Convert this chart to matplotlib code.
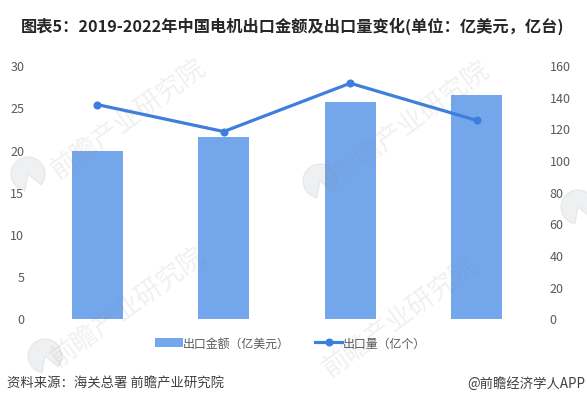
from matplotlib import pyplot as plt
from matplotlib.patches import Wedge
import matplotlib

matplotlib.rcParams['font.family'] = ['Noto Sans CJK SC', 'DejaVu Sans']

years = ['2019', '2020', '2021', '2022']
export_value = [19.8, 21.5, 25.6, 26.4]
export_volume = [135, 118, 148.5, 125]
left_ticks = [0, 5, 10, 15, 20, 25, 30]
right_ticks = [0, 20, 40, 60, 80, 100, 120, 140, 160]

W, H = 587, 406
fig = plt.figure(figsize=(W / 100, H / 100), dpi=100)

# axes box in pixels: x 34-540, y 66-319.5
ax = fig.add_axes([34 / W, 1 - 319.5 / H, 506 / W, 253.5 / H])
x = range(len(years))
bars = ax.bar(x, export_value, width=0.405, color='#73a6eb', label='出口金额（亿美元）', zorder=3)
ax.set_xlim(-0.5, 3.5)
ax.set_ylim(0, 30)
ax.set_yticks(left_ticks)
ax.set_xticks([])
ax.tick_params(axis='y', length=0, labelsize=9, labelcolor='#595959', pad=7)

ax2 = ax.twinx()
line, = ax2.plot(x, export_volume, color='#3d7fdc', lw=2.3, marker='o', ms=4.8, label='出口量（亿个）', zorder=4)
ax2.set_ylim(0, 160)
ax2.set_yticks(right_ticks)
ax2.tick_params(axis='y', length=0, labelsize=9, labelcolor='#595959', pad=7)

for a in [ax, ax2]:
    for s in a.spines.values():
        s.set_visible(False)

# faint watermarks on top of the chart
wm = fig.add_axes([0, 0, 1, 1])
wm.set_xlim(0, W)
wm.set_ylim(H, 0)
wm.axis('off')
for wx, wy in [(128, 120), (412, 122), (128, 308), (400, 318)]:
    wm.text(wx, wy, '前瞻产业研究院', rotation=36, fontsize=19, color='#8a8f96', alpha=0.13,
            ha='center', va='center')
for lx, ly in [(28, 175), (320, 182), (45, 357), (578, 208)]:
    wm.add_patch(Wedge((lx, ly), 17, 100, 400, width=17, color='#8a8f96', alpha=0.13))

fig.text(21 / W, 1 - 26 / H, '图表5：2019-2022年中国电机出口金额及出口量变化(单位：亿美元，亿台)',
         fontsize=11.7, fontweight='bold', color='#262626', ha='left', va='center')

fig.legend(handles=[bars, line], loc='center', bbox_to_anchor=(290.5 / W, 1 - 344 / H), ncol=2,
           frameon=False, fontsize=8.6, labelcolor='#595959', handlelength=2.3,
           handletextpad=0, columnspacing=2.1)

fig.text(7 / W, 1 - 384 / H, '资料来源：海关总署 前瞻产业研究院', fontsize=9.6, color='#404040', ha='left', va='center')
fig.text(585 / W, 1 - 384 / H, '@前瞻经济学人APP', fontsize=9.6, color='#404040', ha='right', va='center')

fig.savefig('out.png', dpi=100)
